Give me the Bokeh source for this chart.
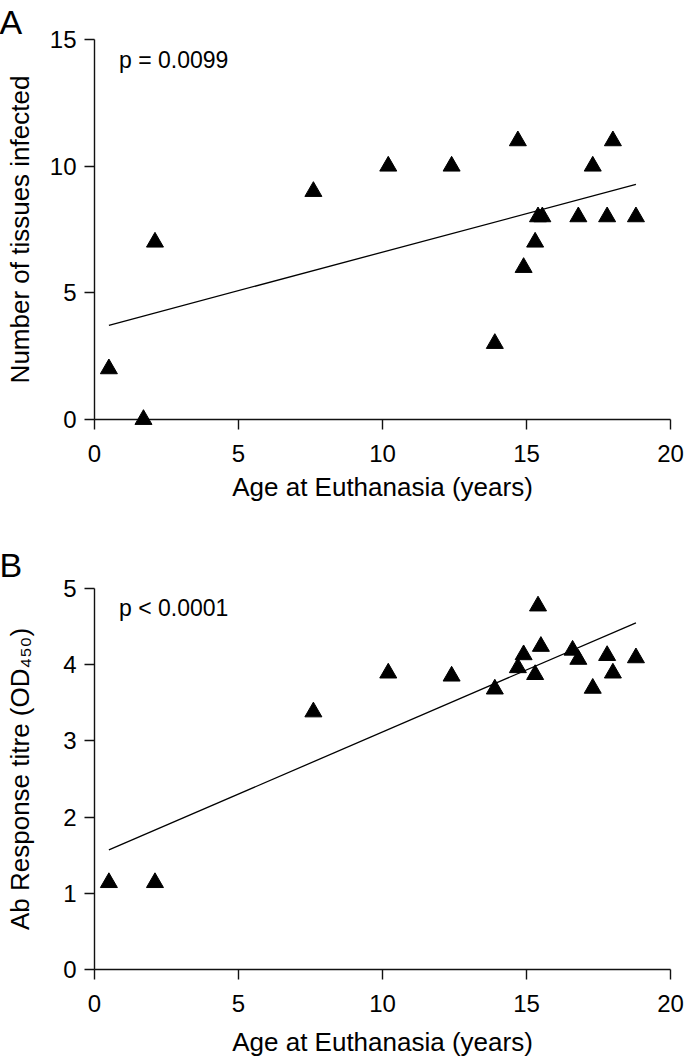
from bokeh.plotting import figure
from bokeh.models import Range1d, FixedTicker, Label
from bokeh.core.properties import value
from bokeh.layouts import column
from bokeh.embed import file_html
from bokeh.resources import INLINE

# ---- data ----
age_a = [0.5, 1.7, 2.1, 7.6, 10.2, 12.4, 13.9, 14.7, 14.9, 15.3, 15.4, 15.55, 16.8, 17.3, 17.8, 18.0, 18.8]
tissues = [2, 0, 7, 9, 10, 10, 3, 11, 6, 7, 8, 8, 8, 10, 8, 11, 8]
fit_x = [0.5, 18.8]
fit_a = [3.72, 9.28]

age_b = [0.5, 2.1, 7.6, 10.2, 12.4, 13.9, 14.7, 14.9, 15.3, 15.4, 15.5, 16.6, 16.8, 17.3, 17.8, 18.0, 18.8]
titre = [1.14, 1.14, 3.38, 3.89, 3.85, 3.68, 3.96, 4.13, 3.87, 4.77, 4.24, 4.19, 4.07, 3.69, 4.12, 3.89, 4.09]
fit_b = [1.57, 4.55]

x_ticks = [0, 5, 10, 15, 20]
y_ticks_a = [0, 5, 10, 15]
y_ticks_b = [0, 1, 2, 3, 4, 5]

x_title = "Age at Euthanasia (years)"
y_title_a = "Number of tissues infected"
y_title_b = "Ab Response titre (OD\u2084\u2085\u2080)"

FONT = "Liberation Sans"


def make(xs, ys, fy, ymax, yticks, ylabel, letter, ptext, H, top, bottom,
         ylab_standoff, xlab_standoff, letter_y, p_y):
    p = figure(width=685, height=H, x_range=Range1d(0, 20), y_range=Range1d(0, ymax),
               output_backend="svg", toolbar_location=None,
               min_border_left=94, min_border_right=15,
               min_border_top=top, min_border_bottom=bottom)
    p.outline_line_color = None
    p.grid.visible = False
    p.background_fill_color = "white"
    p.border_fill_color = "white"
    for ax in (p.xaxis[0], p.yaxis[0]):
        ax.axis_line_width = 1.4
        ax.axis_line_color = "#111111"
        ax.major_tick_line_width = 1.4
        ax.major_tick_line_color = "#111111"
        ax.major_tick_out = 10
        ax.major_tick_in = 0
        ax.minor_tick_line_color = None
        ax.major_label_text_font = FONT
        ax.major_label_text_font_size = "24px"
        ax.major_label_text_color = "black"
        ax.axis_label_text_font = FONT
        ax.axis_label_text_font_size = "26px"
        ax.axis_label_text_font_style = "normal"
        ax.axis_label_text_color = "black"
    p.yaxis[0].axis_label_text_line_height = 1.0
    p.xaxis[0].ticker = FixedTicker(ticks=x_ticks)
    p.yaxis[0].ticker = FixedTicker(ticks=yticks)
    p.xaxis[0].axis_label = x_title
    p.yaxis[0].axis_label = ylabel
    p.xaxis[0].major_label_standoff = 15
    p.yaxis[0].major_label_standoff = 8
    p.xaxis[0].axis_label_standoff = xlab_standoff
    p.yaxis[0].axis_label_standoff = ylab_standoff

    p.line(fit_x, fy, line_color="black", line_width=1.3)
    r = p.scatter(xs, ys, marker="triangle", size=17, fill_color="black", line_color="black")
    r.level = "overlay"

    t = p.text(x=[-3.3], y=[letter_y], text=[letter], text_font=value(FONT),
               text_font_size="34px", text_color="black", text_align="left",
               text_baseline="alphabetic")
    t.level = "overlay"
    p.add_layout(Label(x=0.85, y=p_y, text=ptext, text_font=FONT, text_font_size="23px",
                       text_color="black", text_align="left", text_baseline="alphabetic"))
    return p


pa = make(age_a, tissues, fit_a, 15, y_ticks_a, y_title_a, "A", "p = 0.0099",
          520, 39, 101, 12, 7, 15.71, 14.18)
pb = make(age_b, titre, fit_b, 5, y_ticks_b, y_title_b, "B", "p < 0.0001",
          539, 68, 90, 25, 12, 5.31, 4.75)

layout = column(pa, pb)
open("out.html", "w").write(file_html(layout, INLINE))
